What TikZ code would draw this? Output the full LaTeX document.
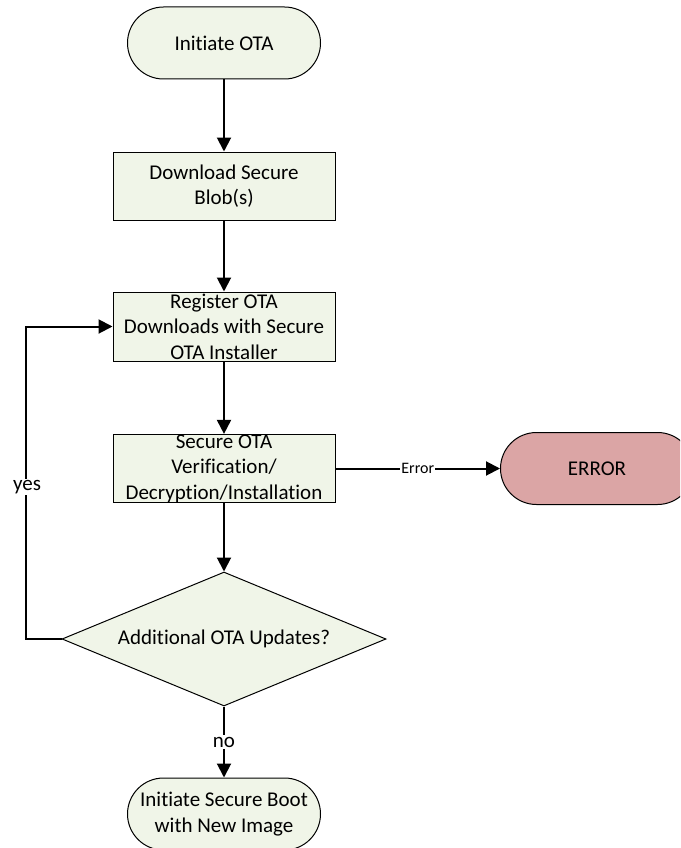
\documentclass[tikz,border=0pt]{standalone}
\usepackage{fontspec}
\setmainfont{Carlito}[Ligatures=NoCommon]
\usetikzlibrary{arrows.meta,shapes.geometric}

\definecolor{stepfill}{RGB}{240,245,232}
\definecolor{errfill}{RGB}{219,165,165}

\tikzset{
  base/.style={draw=black, line width=1pt, inner sep=0pt, align=center,
    font=\fontsize{21}{25.6}\selectfont},
  terminal/.style={base, fill=stepfill, rectangle, rounded corners=36pt,
    minimum width=193pt, minimum height=72pt},
  errterm/.style={terminal, fill=errfill},
  stepbox/.style={base, fill=stepfill, rectangle,
    minimum width=222pt, minimum height=68pt},
  decision/.style={base, fill=stepfill, diamond, aspect=2.42,
    minimum width=324pt, minimum height=134pt},
  flow/.style={line width=2pt, -{Triangle[length=14pt,width=14pt]}},
  lbl/.style={fill=white, inner sep=1.5pt, font=\fontsize{21}{25.6}\selectfont},
  smalllbl/.style={fill=white, inner sep=1pt, font=\fontsize{16}{18}\selectfont}
}

\begin{document}
\begin{tikzpicture}[x=1pt, y=-1pt]
  \useasboundingbox (0,0) rectangle (680,848);
  \begin{scope}
    \clip (0,0) rectangle (680,848);

    % process nodes
    \node[terminal] (init) at (224,43) {Initiate OTA};
    \node[stepbox] (dl) at (224,186) {Download Secure\\Blob(s)};
    \node[stepbox, minimum height=69pt] (reg) at (224,326.5) {Register OTA\\Downloads with Secure\\OTA Installer};
    \node[stepbox] (sec) at (224,468.5) {Secure OTA\\Verification/\\Decryption/Installation};
    \node[errterm] (err) at (597,468.5) {ERROR};
    \node[decision] (dec) at (224,639) {Additional OTA Updates?};
    \node[terminal] (boot) at (224,814) {Initiate Secure Boot\\with New Image};

    % main flow
    \draw[flow] (init) -- (dl);
    \draw[flow] (dl) -- (reg);
    \draw[flow] (reg) -- (sec);
    \draw[flow] (sec) -- (dec);
    \draw[flow] (sec.east) -- node[smalllbl] (errlbl) {Error} (err.west);
    \draw[flow] (dec) -- node[lbl] (nolbl) {no} (boot);

    % loop back for further updates
    \coordinate (loopx) at (26,639);
    \draw[flow] (dec.west) -- (loopx) |- (reg.west);
    \node[lbl] (yeslbl) at (27,487) {yes};
  \end{scope}
\end{tikzpicture}
\end{document}
